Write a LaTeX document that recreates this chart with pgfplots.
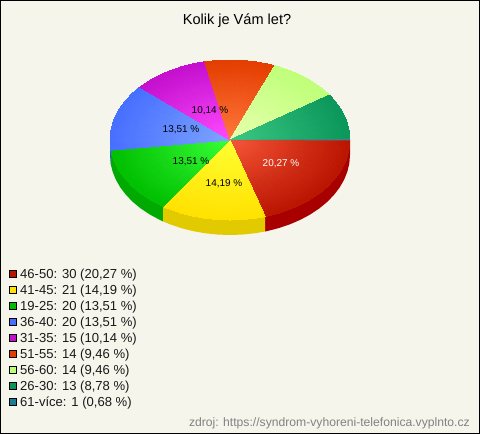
\documentclass[border=0pt]{standalone}
\usepackage{fontspec}
\setmainfont{Liberation Sans}
\usepackage{pgfplots}
\usepgfplotslibrary{patchplots}
\pgfplotsset{compat=1.18}
\definecolor{bgc}{RGB}{245,245,236}
\definecolor{sr}{RGB}{168,0,0}
\definecolor{sy}{RGB}{226,202,0}
\definecolor{sg}{RGB}{0,170,0}
\definecolor{sb}{RGB}{50,80,220}
\definecolor{sl}{RGB}{70,125,135}
\definecolor{lr}{RGB}{185,20,0}
\definecolor{ly}{RGB}{255,228,0}
\definecolor{lg}{RGB}{0,190,0}
\definecolor{lb}{RGB}{70,110,255}
\definecolor{lm}{RGB}{195,15,205}
\definecolor{lo}{RGB}{228,60,0}
\definecolor{ll}{RGB}{190,255,120}
\definecolor{lt}{RGB}{10,150,90}
\definecolor{lv}{RGB}{25,125,150}
\definecolor{foot}{RGB}{130,130,130}
\pgfplotsset{wedge/.style={patch, patch type=triangle, shader=interp, mesh/color input=explicit, table/row sep=\\}}
\pgfplotsset{leg/.style={only marks, mark=square*, mark size=3.6bp, mark options={line width=0.8bp, draw=black, fill=#1}}}
\begin{document}
\begin{tikzpicture}[x=1bp,y=1bp]
\begin{axis}[at={(0bp,0bp)},anchor=south west,scale only axis,width=480bp,height=434bp,xmin=0,xmax=480,ymin=0,ymax=434,y dir=reverse,xtick=\empty,ytick=\empty,axis background/.style={fill=bgc},axis line style={black,line width=2bp},clip=true]
% side walls
\addplot[fill=sr,draw=none,forget plot] coordinates {(350,140)(350,155)(349.34,163.36)(347.37,171.63)(344.13,179.72)(339.62,187.54)(333.92,195)(327.08,202.02)(319.17,208.53)(310.29,214.45)(300.54,219.72)(290,224.28)(278.80,228.08)(267.08,231.09)(265.13,231.5)(265.13,216.5)} --cycle;
\addplot[fill=sy,draw=none,forget plot] coordinates {(265.13,216.5)(265.13,231.5)(254.95,233.25)(242.54,234.56)(230,235)(217.46,234.56)(205.05,233.25)(192.92,231.09)(181.20,228.08)(170,224.28)(162.81,221.29)(162.81,206.29)} --cycle;
\addplot[fill=sg,draw=none,forget plot] coordinates {(162.81,206.29)(162.81,221.29)(159.46,219.72)(149.71,214.45)(140.83,208.53)(132.92,202.02)(126.08,195)(120.38,187.54)(115.87,179.72)(112.63,171.63)(110.97,165.17)(110.97,150.17)} --cycle;
\addplot[fill=sb,draw=none,forget plot] coordinates {(110.97,150.17)(110.97,165.17)(110.66,163.36)(110,155)(110,140)} --cycle;
% red 46-50
\addplot[wedge,patch table={0 1 2\\0 2 3\\0 3 4\\0 4 5\\0 5 6\\0 6 7\\0 7 8\\0 8 9\\0 9 10\\0 10 11\\0 11 12\\0 12 13\\0 13 14\\}] table[meta=c]{x y c\\230 140 .961,.333,.216\\350 140 .725,.078,0\\349.34 148.36 .725,.078,0\\347.37 156.63 .725,.078,0\\344.13 164.72 .725,.078,0\\339.62 172.54 .725,.078,0\\333.92 180 .725,.078,0\\327.08 187.02 .725,.078,0\\319.17 193.53 .725,.078,0\\310.29 199.45 .725,.078,0\\300.54 204.72 .725,.078,0\\290 209.28 .725,.078,0\\278.80 213.08 .725,.078,0\\267.08 216.09 .725,.078,0\\265.13 216.50 .725,.078,0\\};
% yellow 41-45
\addplot[wedge,patch table={0 1 2\\0 2 3\\0 3 4\\0 4 5\\0 5 6\\0 6 7\\0 7 8\\0 8 9\\0 9 10\\}] table[meta=c]{x y c\\230 140 1,1,.196\\265.13 216.50 1,.882,0\\254.95 218.25 1,.882,0\\242.54 219.56 1,.882,0\\230 220 1,.882,0\\217.46 219.56 1,.882,0\\205.05 218.25 1,.882,0\\192.92 216.09 1,.882,0\\181.20 213.08 1,.882,0\\170 209.28 1,.882,0\\162.81 206.29 1,.882,0\\};
% green 19-25
\addplot[wedge,patch table={0 1 2\\0 2 3\\0 3 4\\0 4 5\\0 5 6\\0 6 7\\0 7 8\\0 8 9\\0 9 10\\}] table[meta=c]{x y c\\230 140 .216,1,.216\\162.81 206.29 0,.745,0\\159.46 204.72 0,.745,0\\149.71 199.45 0,.745,0\\140.83 193.53 0,.745,0\\132.92 187.02 0,.745,0\\126.08 180 0,.745,0\\120.38 172.54 0,.745,0\\115.87 164.72 0,.745,0\\112.63 156.63 0,.745,0\\110.97 150.17 0,.745,0\\};
% blue 36-40
\addplot[wedge,patch table={0 1 2\\0 2 3\\0 3 4\\0 4 5\\0 5 6\\0 6 7\\0 7 8\\0 8 9\\0 9 10\\}] table[meta=c]{x y c\\230 140 .49,.647,1\\110.97 150.17 .275,.431,1\\110.66 148.36 .275,.431,1\\110 140 .275,.431,1\\110.66 131.64 .275,.431,1\\112.63 123.37 .275,.431,1\\115.87 115.28 .275,.431,1\\120.38 107.46 .275,.431,1\\126.08 100 .275,.431,1\\132.92 92.98 .275,.431,1\\139.94 87.13 .275,.431,1\\};
% magenta 31-35
\addplot[wedge,patch table={0 1 2\\0 2 3\\0 3 4\\0 4 5\\0 5 6\\0 6 7\\0 7 8\\}] table[meta=c]{x y c\\230 140 1,.29,1\\139.94 87.13 .765,.06,.805\\140.83 86.47 .765,.06,.805\\149.71 80.55 .765,.06,.805\\159.46 75.28 .765,.06,.805\\170 70.72 .765,.06,.805\\181.20 66.92 .765,.06,.805\\192.92 63.91 .765,.06,.805\\204.73 61.79 .765,.06,.805\\};
% orange 51-55
\addplot[wedge,patch table={0 1 2\\0 2 3\\0 3 4\\0 4 5\\0 5 6\\0 6 7\\0 7 8\\}] table[meta=c]{x y c\\230 140 1,.471,.235\\204.73 61.79 .894,.235,0\\205.05 61.75 .894,.235,0\\217.46 60.44 .894,.235,0\\230 60 .894,.235,0\\242.54 60.44 .894,.235,0\\254.95 61.75 .894,.235,0\\267.08 63.91 .894,.235,0\\274.80 65.78 .894,.235,0\\};
% light green 56-60
\addplot[wedge,patch table={0 1 2\\0 2 3\\0 3 4\\0 4 5\\0 5 6\\0 6 7\\0 7 8\\}] table[meta=c]{x y c\\230 140 .91,1,.686\\274.80 65.78 .745,1,.471\\278.80 66.92 .745,1,.471\\290 70.72 .745,1,.471\\300.54 75.28 .745,1,.471\\310.29 80.55 .745,1,.471\\319.17 86.47 .745,1,.471\\327.08 92.98 .745,1,.471\\329.42 95.20 .745,1,.471\\};
% teal 26-30
\addplot[wedge,patch table={0 1 2\\0 2 3\\0 3 4\\0 4 5\\0 5 6\\0 6 7\\}] table[meta=c]{x y c\\230 140 .235,.784,.51\\329.42 95.20 .039,.588,.353\\333.92 100 .039,.588,.353\\339.62 107.46 .039,.588,.353\\344.13 115.28 .039,.588,.353\\347.37 123.37 .039,.588,.353\\349.34 131.64 .039,.588,.353\\350 139 .039,.588,.353\\};
% 61-vice
\addplot[fill=sl,draw=none,forget plot] coordinates {(230,140)(350,139)(350,140.4)} --cycle;
% legend markers
\addplot[leg=lr] coordinates {(13,274)};
\addplot[leg=ly] coordinates {(13,290)};
\addplot[leg=lg] coordinates {(13,306)};
\addplot[leg=lb] coordinates {(13,322)};
\addplot[leg=lm] coordinates {(13,338)};
\addplot[leg=lo] coordinates {(13,354)};
\addplot[leg=ll] coordinates {(13,370)};
\addplot[leg=lt] coordinates {(13,386)};
\addplot[leg=lv] coordinates {(13,402)};
% labels
\begin{scope}[every node/.style={font=\fontsize{10}{12}\selectfont,inner sep=0pt}]
\node[white] at (axis cs:281,164) {20,27 \%};
\node at (axis cs:224,184) {14,19 \%};
\node at (axis cs:191,162) {13,51 \%};
\node at (axis cs:181,130) {13,51 \%};
\node at (axis cs:210,111) {10,14 \%};
\end{scope}
\node[font=\fontsize{14.6}{17}\selectfont,inner sep=0pt] at (axis cs:237,21) {Kolik je Vám let?};
\begin{scope}[every node/.style={font=\fontsize{13.1}{15}\selectfont,inner sep=0pt,anchor=west,text=black!90}]
\node at (axis cs:20,275.5) {46-50: 30 (20,27 \%)};
\node at (axis cs:20,291.5) {41-45: 21 (14,19 \%)};
\node at (axis cs:20,307.5) {19-25: 20 (13,51 \%)};
\node at (axis cs:20,323.5) {36-40: 20 (13,51 \%)};
\node at (axis cs:20,339.5) {31-35: 15 (10,14 \%)};
\node at (axis cs:20,355.5) {51-55: 14 (9,46 \%)};
\node at (axis cs:20,371.5) {56-60: 14 (9,46 \%)};
\node at (axis cs:20,387.5) {26-30: 13 (8,78 \%)};
\node at (axis cs:20,403.5) {61-více: 1 (0,68 \%)};
\end{scope}
\node[font=\fontsize{12.2}{14}\selectfont,inner sep=0pt,anchor=east,text=foot] at (axis cs:470,423) {zdroj: https://syndrom-vyhoreni-telefonica.vyplnto.cz};
\end{axis}
\pgfresetboundingbox
\path (0bp,0bp) rectangle (480bp,434bp);
\end{tikzpicture}
\end{document}
